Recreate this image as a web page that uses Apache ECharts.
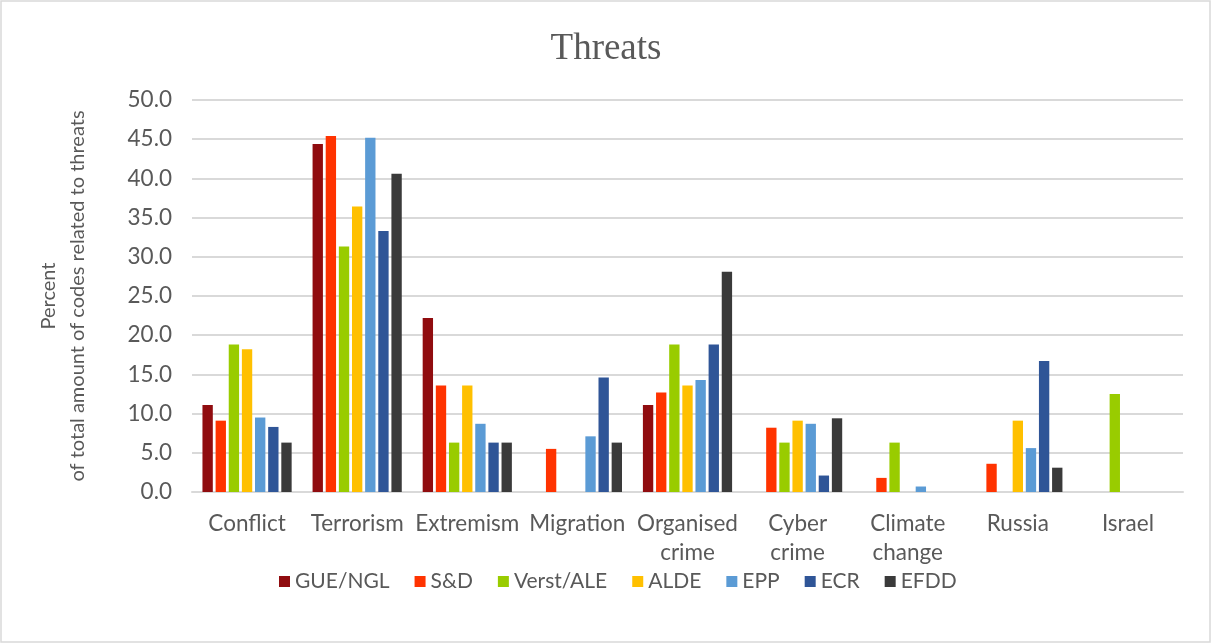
<!DOCTYPE html>
<html>
<head>
<meta charset="utf-8">
<script src="https://cdn.jsdelivr.net/npm/echarts@6/dist/echarts.min.js"></script>
<style>
  html, body { margin: 0; padding: 0; background: #ffffff; }
  #chart { width: 1212px; height: 644px; }
</style>
</head>
<body>
<div id="chart"></div>
<script>
// Threat categories on the x axis
const categories = ['Conflict', 'Terrorism', 'Extremism', 'Migration', 'Organised crime', 'Cyber crime', 'Climate change', 'Russia', 'Israel'];

// Share (%) of threat-related codes per political group; null = no codes
const gueNgl = [11.1, 44.4, 22.2, null, 11.1, null, null, null, null];
const sd     = [9.1, 45.4, 13.6, 5.5, 12.7, 8.2, 1.8, 3.6, null];
const verts  = [18.8, 31.3, 6.3, null, 18.8, 6.3, 6.3, null, 12.5];
const alde   = [18.2, 36.4, 13.6, null, 13.6, 9.1, null, 9.1, null];
const epp    = [9.5, 45.2, 8.7, 7.1, 14.3, 8.7, 0.7, 5.6, null];
const ecr    = [8.3, 33.3, 6.3, 14.6, 18.8, 2.1, null, 16.7, null];
const efdd   = [6.3, 40.6, 6.3, 6.3, 28.1, 9.4, null, 3.1, null];

const groupNames = ['GUE/NGL', 'S&D', 'Verst/ALE', 'ALDE', 'EPP', 'ECR', 'EFDD'];
const groupValues = [gueNgl, sd, verts, alde, epp, ecr, efdd];
const groupColors = ['#900C0F', '#FF3300', '#99CC00', '#FFC000', '#5B9BD5', '#2F5597', '#3A3A3A'];

// Value axis range and step
const yMin = 0;
const yMax = 50;
const yStep = 5;

const textColor = '#595959';
const font = 'Lato';

const chart = echarts.init(document.getElementById('chart'), null, { renderer: 'canvas' });

const series = groupNames.map((name, i) => ({
  name: name,
  type: 'bar',
  data: groupValues[i],
  barGap: '27%',
  barCategoryGap: '19%',
  itemStyle: { color: groupColors[i] }
}));

chart.setOption({
  backgroundColor: '#ffffff',
  animation: false,
  textStyle: { fontFamily: font },
  title: {
    text: 'Threats',
    left: 'center',
    top: 26,
    textStyle: { fontFamily: 'Liberation Serif', fontSize: 37, fontWeight: 'normal', color: textColor }
  },
  legend: {
    data: groupNames,
    left: 274,
    top: 566,
    icon: 'rect',
    itemWidth: 11,
    itemHeight: 11,
    itemGap: 25,
    textStyle: { fontFamily: font, fontSize: 21, color: textColor }
  },
  grid: { left: 192, right: 29, top: 100, bottom: 152, containLabel: false },
  xAxis: {
    type: 'category',
    data: categories,
    axisLine: { show: true, lineStyle: { color: '#d9d9d9', width: 2 } },
    axisTick: { show: false },
    axisLabel: {
      interval: 0,
      margin: 17,
      fontSize: 22.5,
      lineHeight: 29,
      color: textColor,
      formatter: v => v.replace(' ', '\n')
    }
  },
  yAxis: {
    type: 'value',
    min: yMin,
    max: yMax,
    interval: yStep,
    name: 'Percent\nof total amount of codes related to threats',
    nameLocation: 'middle',
    nameRotate: 90,
    nameGap: 100,
    nameTextStyle: { fontFamily: font, fontSize: 20, lineHeight: 29, color: textColor },
    axisLine: { show: false },
    axisTick: { show: false },
    axisLabel: {
      margin: 20,
      fontSize: 22.5,
      color: textColor,
      formatter: v => v.toFixed(1)
    },
    splitLine: { lineStyle: { color: '#d9d9d9', width: 2 } }
  },
  graphic: [{
    type: 'rect',
    shape: { x: 1, y: 1, width: 1209, height: 641 },
    style: { fill: 'none', stroke: '#d9d9d9', lineWidth: 1.5 },
    silent: true
  }],
  series: series
});
</script>
</body>
</html>
